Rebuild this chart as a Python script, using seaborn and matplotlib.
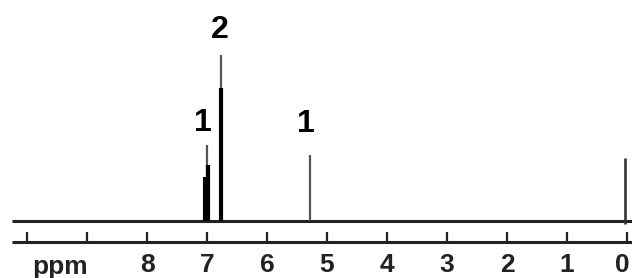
import matplotlib
matplotlib.use('Agg')
import matplotlib.pyplot as plt
import seaborn as sns

# picos do espectro (ppm, altura) - linhas finas e partes grossas
ppm_fino = [6.76, 7.00, 5.28]
altura_fino = [166, 76, 66]
ppm_grosso = [6.76, 7.04, 6.98]
altura_grosso = [133, 44, 56]
# pico de referencia (TMS)
ppm_tms = [0.03]
altura_tms = [63]

# integrais escritas acima dos picos
integral_ppm = [6.78, 7.07, 5.35]
integral_altura = [191, 98, 97]
integral_texto = ['2', '1', '1']

# eixo de ppm
ticks_ppm = [10, 9, 8, 7, 6, 5, 4, 3, 2, 1, 0]
rotulos_ppm = ['8', '7', '6', '5', '4', '3', '2', '1', '0']
rotulos_pos = [8, 7, 6, 5, 4, 3, 2, 1, 0]

sns.set_theme(style='white')
plt.rcParams['font.family'] = ['Liberation Sans', 'DejaVu Sans']

fig = plt.figure(figsize=(6.32, 2.78), dpi=100)
ax = fig.add_axes([0, 0, 1, 1])
ax.set_xlim(10.45, -0.083)
ax.set_ylim(-57, 221)
ax.axis('off')

cor = '#222222'
# linha de base do espectro
ax.hlines(0, 10.25, -0.083, color=cor, lw=2.2)
# picos
ax.vlines(ppm_fino, 0, altura_fino, color='#555555', lw=1.6)
ax.vlines(ppm_grosso, 0, altura_grosso, color='black', lw=3.0)
ax.vlines(ppm_tms, -3, altura_tms, color='#333333', lw=1.9)

for x, y, t in zip(integral_ppm, integral_altura, integral_texto):
    ax.text(x, y, t, ha='center', va='center', fontsize=23, fontweight='bold', color='black')

# eixo com marcas
ax.hlines(-21, 10.25, -0.083, color=cor, lw=2.2)
ax.vlines(ticks_ppm, -21, -11, color=cor, lw=1.6)
for x, t in zip(rotulos_pos, rotulos_ppm):
    # o ultimo rotulo fica colado na borda direita
    if x == 0:
        ax.text(-0.05, -44, t, ha='right', va='center', fontsize=19, fontweight='bold', color=cor)
    else:
        ax.text(x, -44, t, ha='center', va='center', fontsize=19, fontweight='bold', color=cor)
ax.text(9.45, -46, 'ppm', ha='center', va='center', fontsize=19, fontweight='bold', color=cor)

fig.savefig('out.png', dpi=100)
